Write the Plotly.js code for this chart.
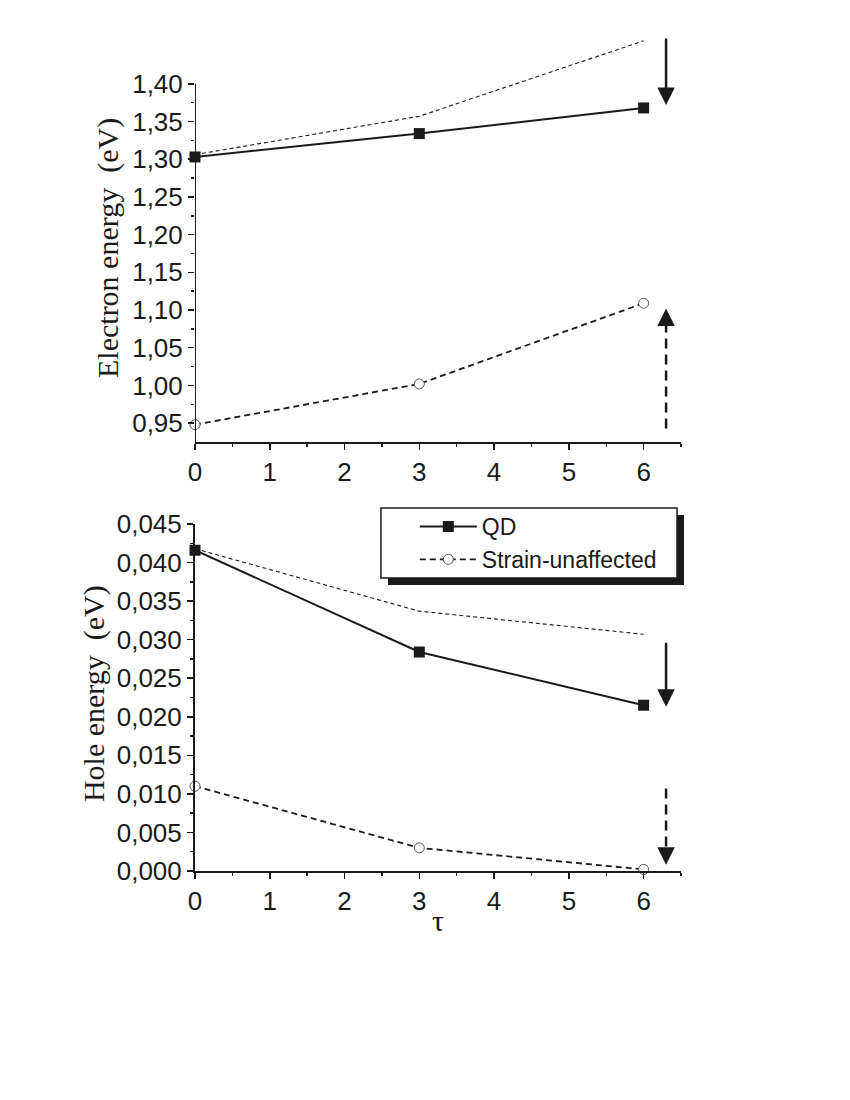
<!DOCTYPE html>
<html>
<head>
<meta charset="utf-8">
<script src="https://cdn.plot.ly/plotly-3.0.1.min.js"></script>
<style>
    body { margin: 0; background: #ffffff; }
    #chart { width: 850px; height: 1100px; }
</style>
</head>
<body>
<div id="chart"></div>
<script>
// Data
let tau = [0, 3, 6];

// Electron energy (eV)
let electronQD = [1.303, 1.334, 1.368];
let electronUnaffected = [0.948, 1.002, 1.109];
let electronThin = [1.306, 1.357, 1.457];

// Hole energy (eV)
let holeQD = [0.0416, 0.0284, 0.0215];
let holeUnaffected = [0.0110, 0.0030, 0.0002];
let holeThin = [0.0418, 0.0337, 0.0307];

// Tick labels
let tauTicks = [0, 1, 2, 3, 4, 5, 6];
let electronTicks = [0.95, 1.00, 1.05, 1.10, 1.15, 1.20, 1.25, 1.30, 1.35, 1.40];
let electronMinor = [0.975, 1.025, 1.075, 1.125, 1.175, 1.225, 1.275, 1.325, 1.375];
let holeTicks = [0, 0.005, 0.010, 0.015, 0.020, 0.025, 0.030, 0.035, 0.040, 0.045];

// Arrows on the right: [tail, tip] in energy units
let arrowX = 6.3;
let electronDown = [1.462, 1.372];
let electronUp = [0.943, 1.102];
let holeDown = [0.0298, 0.0213];
let holeDashDown = [0.0107, 0.0008];

const INK = '#1a1a1a';
const SANS = 'Liberation Sans, Arial, sans-serif';
const SERIF = 'Liberation Serif, Times New Roman, serif';
const TICK_SIZE = 26;

drawChart();

function qdTrace(y, xa, ya, legend) {
    return {
        x: tau, y: y, xaxis: xa, yaxis: ya,
        type: 'scatter', mode: 'lines+markers', name: 'QD',
        showlegend: legend, cliponaxis: false,
        line: { color: INK, width: 2 },
        marker: { symbol: 'square', size: 11, color: INK }
    };
}

function unaffectedTrace(y, xa, ya, legend) {
    return {
        x: tau, y: y, xaxis: xa, yaxis: ya,
        type: 'scatter', mode: 'lines+markers', name: 'Strain-unaffected',
        showlegend: legend, cliponaxis: false,
        line: { color: INK, width: 1.8, dash: '6px,4px' },
        marker: { symbol: 'circle', size: 10, color: '#ffffff', line: { color: '#555555', width: 1 } }
    };
}

function thinTrace(y, xa, ya) {
    return {
        x: tau, y: y, xaxis: xa, yaxis: ya,
        type: 'scatter', mode: 'lines', showlegend: false, hoverinfo: 'skip',
        line: { color: INK, width: 1.1, dash: '4px,3px' }
    };
}

function xAxis(anchor) {
    return {
        domain: [0.2294, 0.8012], range: [0, 6.5], anchor: anchor,
        tickmode: 'array', tickvals: tauTicks,
        ticks: 'outside', ticklen: 6, tickwidth: 1.5, tickcolor: INK,
        minor: { dtick: 0.5, tick0: 0, ticks: 'outside', ticklen: 3, tickwidth: 1.5, tickcolor: INK },
        showline: true, linecolor: INK, linewidth: 2,
        showgrid: false, zeroline: false,
        tickfont: { family: SANS, size: TICK_SIZE, color: INK }
    };
}

// head only, pointing at tip, shaft drawn separately when dashed
function arrow(xref, yref, tail, tip) {
    return {
        x: arrowX, y: tip, ax: arrowX, ay: tail,
        xref: xref, yref: yref, axref: xref, ayref: yref,
        text: '', showarrow: true, arrowhead: 2, arrowsize: 1.4,
        arrowwidth: 2.5, arrowcolor: INK, standoff: 0, startstandoff: 0
    };
}

function axisTitle(text, x, y, angle) {
    return {
        text: text, xref: 'paper', yref: 'paper', x: x, y: y,
        xanchor: 'center', yanchor: 'middle', textangle: angle, showarrow: false,
        font: { family: SERIF, size: 30, color: INK }
    };
}

function drawChart() {
    let data = [
        thinTrace(electronThin, 'x', 'y'),
        thinTrace(holeThin, 'x2', 'y2'),
        qdTrace(electronQD, 'x', 'y', true),
        unaffectedTrace(electronUnaffected, 'x', 'y', true),
        qdTrace(holeQD, 'x2', 'y2', false),
        unaffectedTrace(holeUnaffected, 'x2', 'y2', false)
    ];

    // head length of dashed arrows (~16px) in data units
    let upHead = 0.021;
    let downHead = 0.0021;

    let layout = {
        width: 850, height: 1100,
        margin: { l: 0, r: 0, t: 0, b: 0 },
        paper_bgcolor: '#ffffff', plot_bgcolor: '#ffffff',
        separators: ',.',
        font: { family: SANS, size: 23, color: INK },
        showlegend: true,
        legend: {
            x: 0.488, y: 0.5409, xanchor: 'left', yanchor: 'top',
            bgcolor: 'rgba(0,0,0,0)', borderwidth: 0,
            itemwidth: 57, tracegroupgap: 0,
            font: { family: SANS, size: 23, color: INK }
        },
        xaxis: xAxis('y'),
        xaxis2: xAxis('y2'),
        yaxis: {
            domain: [0.5982, 0.9718], range: [0.925, 1.47], anchor: 'x',
            tickmode: 'array', tickvals: electronTicks, tickformat: '.2f',
            ticks: 'outside', ticklen: 6, tickwidth: 1.5, tickcolor: INK,
            minor: { tickmode: 'array', tickvals: electronMinor, ticks: 'outside', ticklen: 3, tickwidth: 1.5, tickcolor: INK },
            showline: false, showgrid: false, zeroline: false,
            tickfont: { family: SANS, size: TICK_SIZE, color: INK }
        },
        yaxis2: {
            domain: [0.2082, 0.5236], range: [0, 0.045], anchor: 'x2',
            tickmode: 'array', tickvals: holeTicks, tickformat: '.3f',
            ticks: 'outside', ticklen: 6, tickwidth: 1.5, tickcolor: INK,
            minor: { dtick: 0.0025, tick0: 0, ticks: 'outside', ticklen: 3, tickwidth: 1.5, tickcolor: INK },
            showline: true, linecolor: INK, linewidth: 2,
            showgrid: false, zeroline: false,
            tickfont: { family: SANS, size: TICK_SIZE, color: INK }
        },
        shapes: [
            // left spine of the top panel stops at the last tick
            { type: 'line', xref: 'x', yref: 'y', x0: 0, x1: 0, y0: 0.925, y1: electronTicks[electronTicks.length - 1],
              line: { color: INK, width: 2 } },
            // dashed arrow shafts
            { type: 'line', xref: 'x', yref: 'y', x0: arrowX, x1: arrowX, y0: electronUp[0], y1: electronUp[1] - upHead,
              line: { color: INK, width: 2.5, dash: '10px,6px' } },
            { type: 'line', xref: 'x2', yref: 'y2', x0: arrowX, x1: arrowX, y0: holeDashDown[0], y1: holeDashDown[1] + downHead,
              line: { color: INK, width: 2.5, dash: '10px,6px' } },
            // legend box with drop shadow
            { type: 'rect', xref: 'paper', yref: 'paper', x0: 0.4565, x1: 0.8047, y0: 0.4682, y1: 0.5318, layer: 'above',
              fillcolor: INK, line: { width: 0 } },
            { type: 'rect', xref: 'paper', yref: 'paper', x0: 0.4482, x1: 0.7965, y0: 0.4745, y1: 0.5382, layer: 'above',
              fillcolor: '#ffffff', line: { color: INK, width: 1.5 } }
        ],
        annotations: [
            arrow('x', 'y', electronDown[0], electronDown[1]),
            arrow('x', 'y', electronUp[1] - upHead, electronUp[1]),
            arrow('x2', 'y2', holeDown[0], holeDown[1]),
            arrow('x2', 'y2', holeDashDown[1] + downHead, holeDashDown[1]),
            axisTitle('Electron energy\u00a0 (eV)', 0.127, 0.7745, -90),
            axisTitle('Hole energy\u00a0 (eV)', 0.1106, 0.369, -90),
            axisTitle('\u03c4', 0.515, 0.1636, 0)
        ]
    };

    Plotly.newPlot('chart', data, layout, { staticPlot: true });
}
</script>
</body>
</html>
